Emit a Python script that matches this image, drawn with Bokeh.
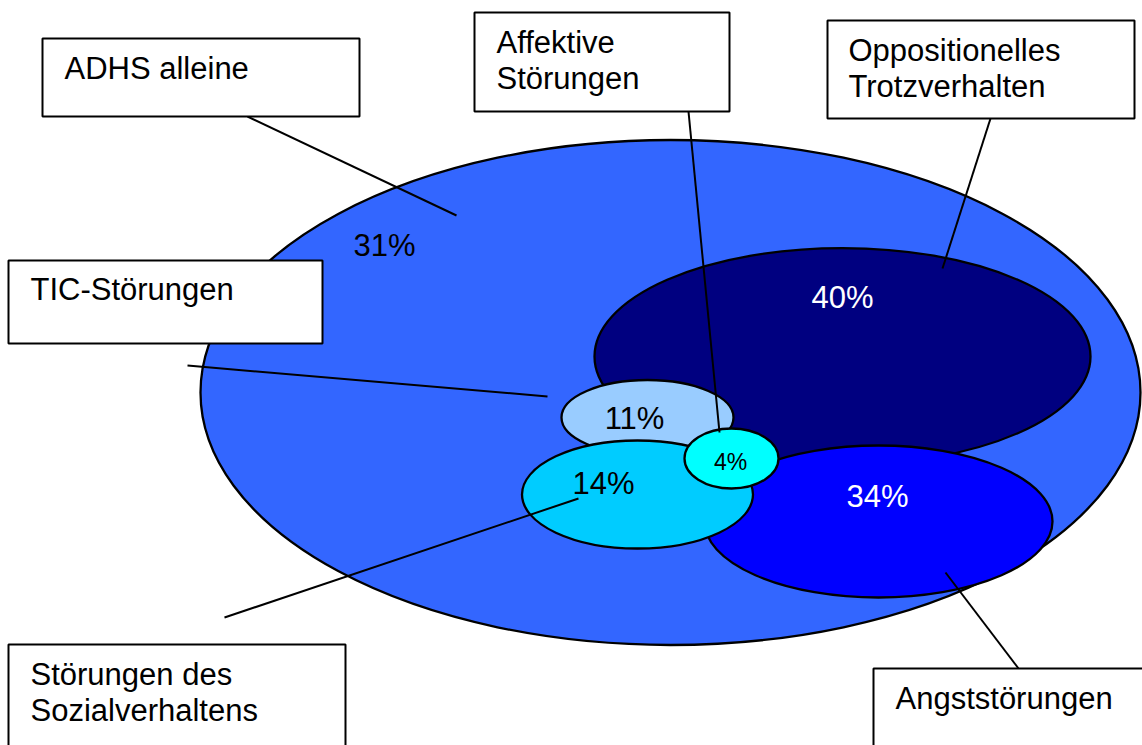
from bokeh.plotting import figure
from bokeh.models import Range1d
from bokeh.core.properties import value
from bokeh.embed import file_html
from bokeh.resources import INLINE

# ---- data ----
categories = ["ADHS alleine", "Oppositionelles Trotzverhalten", "Angststörungen",
              "TIC-Störungen", "Störungen des Sozialverhaltens", "Affektive Störungen"]
percents = [31, 40, 34, 11, 14, 4]
label_lines = [["ADHS alleine"], ["Oppositionelles", "Trotzverhalten"], ["Angststörungen"],
               ["TIC-Störungen"], ["Störungen des", "Sozialverhaltens"], ["Affektive", "Störungen"]]

# ---- layout (pixel coordinates, y downwards) ----
ell_x = [670, 842, 878, 647, 637, 731]
ell_y = [392, 356, 521, 417, 494, 458]
ell_w = [940, 496, 348, 172, 231, 94]
ell_h = [505, 217, 152, 75, 108, 60]
ell_color = ["#3366FF", "#000080", "#0000FF", "#99CCFF", "#00CCFF", "#00FFFF"]
pct_x = [384, 842, 877, 634, 603, 730]
pct_y = [245, 297, 496, 418, 483, 461]
pct_color = ["black", "white", "white", "black", "black", "black"]
pct_size = ["31px", "31px", "31px", "31px", "31px", "23px"]

box_l = [42, 827, 873, 8, 8, 474]
box_r = [359, 1134, 1160, 322, 345, 729]
box_t = [38, 20, 668, 260, 644, 12]
box_b = [116, 118, 760, 343, 760, 111]
txt_x = [64, 848, 895, 30, 30, 496]
txt_y0 = [68, 50, 698, 289, 674, 42]
line_step = 36

lead_x0 = [247, 990, 1018, 187, 224, 688]
lead_y0 = [116, 118, 668, 365, 617, 111]
lead_x1 = [456, 942, 945, 547, 578, 719]
lead_y1 = [215, 268, 572, 396, 498, 432]

W, H = 1142, 745
p = figure(width=W, height=H, output_backend="svg", toolbar_location=None,
           x_range=Range1d(0, W), y_range=Range1d(H, 0), min_border=0)
p.axis.visible = False
p.grid.visible = False
p.outline_line_color = None
p.background_fill_color = "white"
p.border_fill_color = "white"

# ellipses
for i in range(len(percents)):
    p.ellipse(x=[ell_x[i]], y=[ell_y[i]], width=[ell_w[i]], height=[ell_h[i]],
              fill_color=ell_color[i], line_color="black", line_width=2.3)

# percentage labels
for i in range(len(percents)):
    p.text(x=[pct_x[i]], y=[pct_y[i]], text=[f"{percents[i]}%"],
           text_color=pct_color[i], text_font=value("Liberation Sans"),
           text_font_size=pct_size[i], text_align="center", text_baseline="alphabetic")

# leader lines
p.segment(x0=lead_x0, y0=lead_y0, x1=lead_x1, y1=lead_y1, line_color="black", line_width=2)

# label boxes
p.quad(left=box_l, right=box_r, top=box_t, bottom=box_b,
       fill_color="white", line_color="black", line_width=2)

for i, lines in enumerate(label_lines):
    for j, ln in enumerate(lines):
        p.text(x=[txt_x[i]], y=[txt_y0[i] + j * line_step], text=[ln],
               text_color="black", text_font=value("Liberation Sans"),
               text_font_size="31px", text_align="left", text_baseline="alphabetic")

open("out.html", "w").write(file_html(p, INLINE))
